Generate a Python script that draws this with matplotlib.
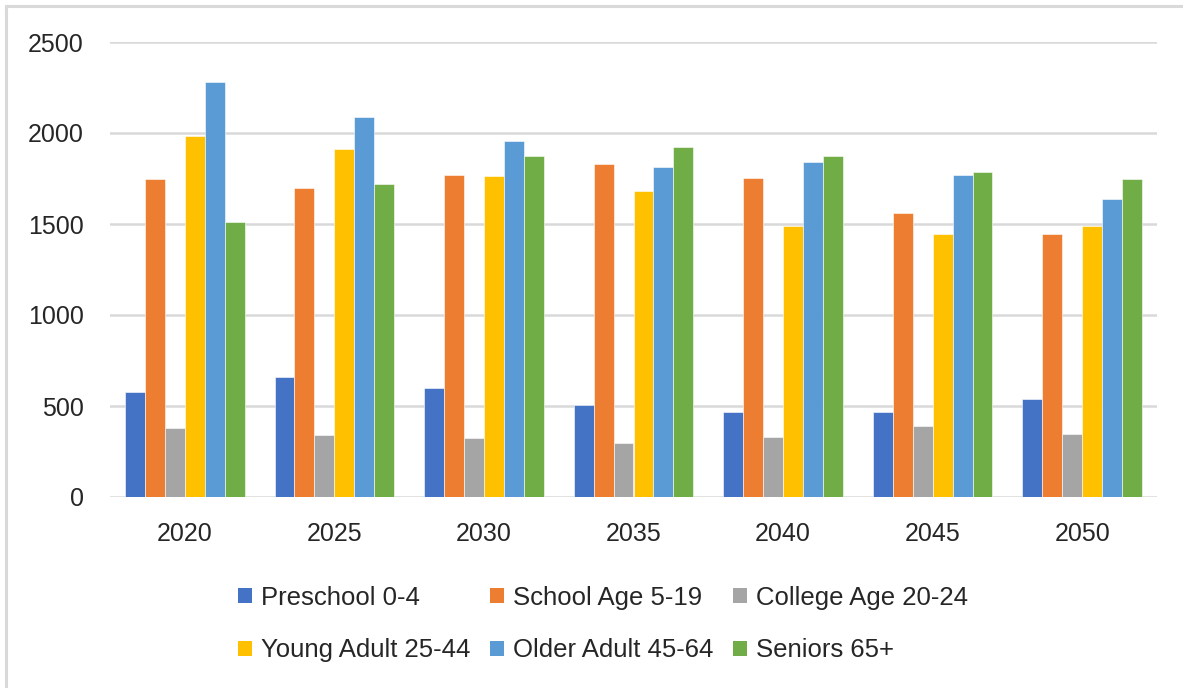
import matplotlib
matplotlib.use("Agg")
import matplotlib.pyplot as plt
import numpy as np
from matplotlib.patches import Patch
from matplotlib.lines import Line2D

years = ["2020", "2025", "2030", "2035", "2040", "2045", "2050"]
series_names = ["Preschool 0-4", "School Age 5-19", "College Age 20-24",
                "Young Adult 25-44", "Older Adult 45-64", "Seniors 65+"]
preschool = [575, 660, 600, 508, 465, 465, 541]
school_age = [1750, 1698, 1771, 1832, 1755, 1560, 1445]
college_age = [380, 341, 324, 299, 330, 390, 348]
young_adult = [1982, 1914, 1762, 1680, 1487, 1445, 1487]
older_adult = [2282, 2090, 1956, 1813, 1839, 1771, 1637]
seniors = [1513, 1722, 1872, 1923, 1872, 1788, 1747]
series_values = [preschool, school_age, college_age, young_adult, older_adult, seniors]
colors = ["#4472C4", "#ED7D31", "#A5A5A5", "#FFC000", "#5B9BD5", "#70AD47"]

plt.rcParams['font.family'] = ['Liberation Sans', 'DejaVu Sans']
text_color = "#262626"

W, H = 1183, 688
fig = plt.figure(figsize=(W / 100, H / 100), dpi=100)
ax = fig.add_axes([110 / W, 1 - 497 / H, (1157 - 110) / W, (497 - 42) / H])

x = np.arange(len(years))
n = len(series_values)
bar_w = 0.8 / n
for i, (vals, col) in enumerate(zip(series_values, colors)):
    offs = (i - (n - 1) / 2) * bar_w
    ax.bar(x + offs, vals, width=bar_w, color=col, edgecolor="white",
           linewidth=0.4, zorder=3, label=series_names[i])

ax.set_xlim(-0.5, len(years) - 0.5)
ax.set_ylim(0, 2500)
ax.set_yticks(np.arange(0, 2501, 500))
ax.set_xticks(x)
ax.set_xticklabels(years)
ax.yaxis.grid(True, color="#D9D9D9", linewidth=1.8, zorder=0)
ax.set_axisbelow(True)
for s in ax.spines.values():
    s.set_visible(False)
ax.tick_params(axis="both", length=0, labelsize=18, colors=text_color)
ax.tick_params(axis="y", pad=19)
ax.tick_params(axis="x", pad=18)

handles = [Patch(facecolor=c) for c in colors]
order = [0, 3, 1, 4, 2, 5]
leg = fig.legend([handles[i] for i in order], [series_names[i] for i in order],
                 ncol=3, loc="center", bbox_to_anchor=(603 / W, 1 - 624 / H),
                 frameon=False, fontsize=18.5, handlelength=0.55, handleheight=0.55,
                 handletextpad=0.35, columnspacing=0.75, labelspacing=1.12)
for t in leg.get_texts():
    t.set_color(text_color)

# chart frame: left and top edges only
fig.add_artist(Line2D([6 / W, 6 / W], [0, 1 - 6 / H], transform=fig.transFigure,
                      color="#D9D9D9", linewidth=2.2))
fig.add_artist(Line2D([6 / W, 1], [1 - 6 / H, 1 - 6 / H], transform=fig.transFigure,
                      color="#D9D9D9", linewidth=2.2))

fig.savefig("out.png", dpi=100, facecolor="white")
